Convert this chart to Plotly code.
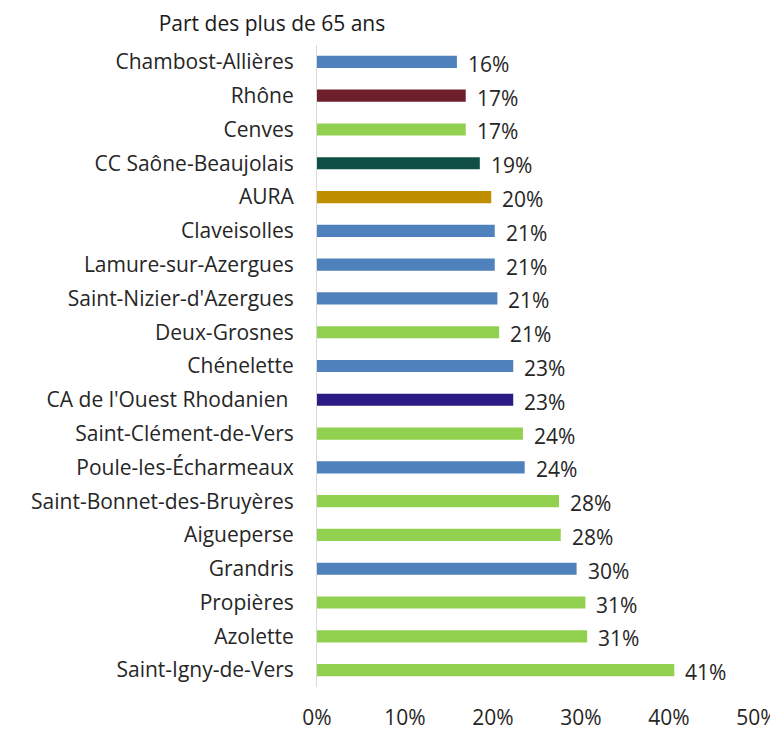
import plotly.graph_objects as go

categories = ["Chambost-Allières", "Rhône", "Cenves", "CC Saône-Beaujolais", "AURA",
              "Claveisolles", "Lamure-sur-Azergues", "Saint-Nizier-d'Azergues", "Deux-Grosnes",
              "Chénelette", "CA de l'Ouest Rhodanien ", "Saint-Clément-de-Vers",
              "Poule-les-Écharmeaux", "Saint-Bonnet-des-Bruyères", "Aigueperse", "Grandris",
              "Propières", "Azolette", "Saint-Igny-de-Vers"]
values = [15.9, 16.9, 16.9, 18.5, 19.8, 20.2, 20.2, 20.5, 20.7, 22.3, 22.3, 23.4, 23.6,
          27.5, 27.7, 29.5, 30.5, 30.7, 40.6]
labels = ["16%", "17%", "17%", "19%", "20%", "21%", "21%", "21%", "21%", "23%", "23%",
          "24%", "24%", "28%", "28%", "30%", "31%", "31%", "41%"]
colors = ["#4F81BD", "#6E1F2C", "#92D050", "#0F4F45", "#BF8F00", "#4F81BD", "#4F81BD",
          "#4F81BD", "#92D050", "#4F81BD", "#2B1B85", "#92D050", "#4F81BD", "#92D050",
          "#92D050", "#4F81BD", "#92D050", "#92D050", "#92D050"]
x_ticks = [0, 10, 20, 30, 40, 50]

FONT = "Open Sans"
W, H = 770, 722  # page body has an 8px margin

fig = go.Figure()
fig.add_trace(go.Bar(
    x=values, y=categories, orientation="h",
    marker=dict(color=colors, line=dict(width=0)),
    hoverinfo="skip",
))

for v, c, t in zip(values, categories, labels):
    fig.add_annotation(x=v, y=c, text=t, showarrow=False, xanchor="left",
                       xshift=9, yshift=-2, font=dict(family=FONT, size=21, color="#262626"))

fig.update_layout(
    width=W, height=H,
    margin=dict(l=309, r=21, t=37, b=43, autoexpand=False),
    paper_bgcolor="white", plot_bgcolor="white",
    showlegend=False,
    bargap=0.64,
    title=dict(text="Part des plus de 65 ans", x=264 / W, xanchor="center",
               xref="container", y=1 - 16 / H, yanchor="middle",
               font=dict(family=FONT, size=21, color="#1a1a1a")),
    font=dict(family=FONT, size=21, color="#262626"),
)
fig.update_xaxes(range=[0, 50], tickvals=x_ticks, ticktext=[f"{t}%" for t in x_ticks],
                 showgrid=False, zeroline=False, showline=False, ticks="", automargin=False,
                 ticklabelstandoff=16, tickfont=dict(family=FONT, size=21, color="#262626"))
fig.update_yaxes(type="category", categoryorder="array", categoryarray=categories,
                 range=[18.5, -0.5], showgrid=False, zeroline=False, automargin=False,
                 showline=True, linecolor="#D9D9D9", linewidth=1, ticks="",
                 ticklabelstandoff=18, tickfont=dict(family=FONT, size=21, color="#262626"))

fig.write_html("out.html")
